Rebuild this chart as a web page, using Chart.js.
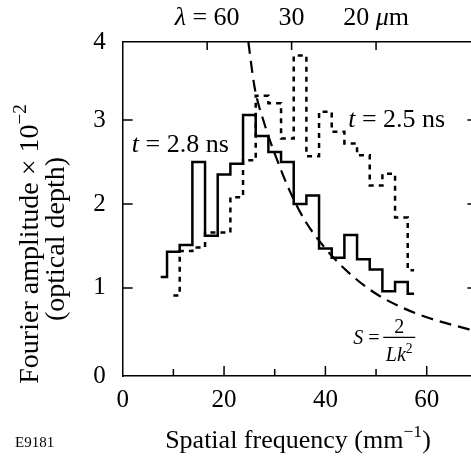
<!DOCTYPE html>
<html>
<head>
<meta charset="utf-8">
<script src="https://cdn.jsdelivr.net/npm/chart.js@4.4.1/dist/chart.umd.min.js"></script>
<style>
  html, body { margin: 0; padding: 0; background: #fff; overflow: hidden; }
  #wrap { width: 480px; height: 460px; }
</style>
</head>
<body>
<div id="wrap"><canvas id="chart" width="480" height="460"></canvas></div>
<script>
// Bin centres of the spatial frequency histogram (mm^-1)
var kBins = [7.5, 10, 12.5, 15, 17.5, 20, 22.5, 25, 27.5, 30, 32.5,
             35, 37.5, 40, 42.5, 45, 47.5, 50, 52.5, 55, 57.5];
// t = 2.8 ns (solid)
var amp28 = [1.13, 1.43, 1.51, 2.50, 1.62, 2.35, 2.48, 3.06, 2.81, 2.62, 2.50,
             2.00, 2.10, 1.47, 1.36, 1.63, 1.34, 1.22, 0.96, 1.07, 0.93];
// t = 2.5 ns (dotted), no value in the first bin
var amp25 = [null, 0.91, 1.44, 1.48, 1.66, 1.66, 2.08, 2.52, 3.29, 3.20, 2.78,
             3.77, 2.57, 3.10, 2.86, 2.72, 2.58, 2.22, 2.36, 1.84, 1.21];
// S = 2/(L k^2) curve
var curveK = [24.8, 26, 28, 30, 33, 36, 40, 45, 50, 55, 60, 65, 70];
var curveS = [3.93, 3.40, 2.95, 2.60, 2.15, 1.80, 1.47, 1.16, 0.93, 0.77, 0.65, 0.56, 0.48];
// top axis: wavelength ticks (um) at k = 1000 / lambda
var lambdaUm = [60, 30, 20];
var yTickVals = [-0.05, 1, 2, 3, 3.93];
var yTickLabels = ['0', '1', '2', '3', '4'];

var SERIF = '"Liberation Serif", "Times New Roman", serif';

function pts(xs, ys) {
    return xs.map(function(x, i) { return {x: x, y: ys[i]}; });
}

// draw a run of text pieces (italic / superscript) starting at x
function drawRich(ctx, parts, x, y, size, align) {
    var w = 0;
    parts.forEach(function(p) {
        ctx.font = (p.it ? 'italic ' : '') + (p.sup ? size * 0.68 : size) + 'px ' + SERIF;
        p.w = ctx.measureText(p.t).width;
        w += p.w;
    });
    if (align === 'center') { x -= w / 2; }
    parts.forEach(function(p) {
        ctx.font = (p.it ? 'italic ' : '') + (p.sup ? size * 0.68 : size) + 'px ' + SERIF;
        ctx.fillText(p.t, x, p.sup ? y - size * 0.42 : y);
        x += p.w;
    });
}

var decorations = {
    id: 'decorations',
    afterDraw: function(chart) {
        var ctx = chart.ctx;
        var xs = chart.scales.x, ys = chart.scales.y;
        var a = chart.chartArea;
        ctx.save();
        ctx.strokeStyle = '#000';
        ctx.fillStyle = '#000';
        ctx.lineWidth = 1.5;
        ctx.textBaseline = 'alphabetic';
        ctx.textAlign = 'left';

        // inward tick marks
        ctx.beginPath();
        xs.ticks.forEach(function(t) {
            if (t.value <= 0 || t.value >= 70) { return; }
            var px = xs.getPixelForValue(t.value);
            var len = t.value % 20 === 0 ? 10 : 7;
            ctx.moveTo(px, a.bottom);
            ctx.lineTo(px, a.bottom - len);
        });
        lambdaUm.forEach(function(l) {
            var px = xs.getPixelForValue(1000 / l);
            ctx.moveTo(px, a.top);
            ctx.lineTo(px, a.top + 8);
        });
        [1, 2, 3].forEach(function(v) {
            var py = ys.getPixelForValue(v);
            ctx.moveTo(a.left, py);
            ctx.lineTo(a.left + 10, py);
            ctx.moveTo(a.right, py);
            ctx.lineTo(a.right - 10, py);
        });
        ctx.stroke();

        // wavelength labels on top
        var top = a.top - 17;
        drawRich(ctx, [{t: '\u03bb', it: true}, {t: ' = 60'}], xs.getPixelForValue(1000 / 60), top, 26, 'center');
        drawRich(ctx, [{t: '30'}], xs.getPixelForValue(1000 / 30), top, 26, 'center');
        drawRich(ctx, [{t: '20 '}, {t: '\u03bc', it: true}, {t: 'm'}], xs.getPixelForValue(1000 / 20), top, 26, 'center');

        // curve labels
        drawRich(ctx, [{t: 't', it: true}, {t: ' = 2.8 ns'}], xs.getPixelForValue(1.8), ys.getPixelForValue(2.62), 26, 'left');
        drawRich(ctx, [{t: 't', it: true}, {t: ' = 2.5 ns'}], xs.getPixelForValue(44.5), ys.getPixelForValue(2.92), 26, 'left');

        // S = 2 / (L k^2)
        var sx = xs.getPixelForValue(45.5), by = ys.getPixelForValue(0.41);
        drawRich(ctx, [{t: 'S', it: true}, {t: ' ='}], sx, by + 7, 20, 'left');
        var bx0 = sx + 30, bx1 = sx + 62;
        ctx.beginPath();
        ctx.lineWidth = 1.2;
        ctx.moveTo(bx0, by);
        ctx.lineTo(bx1, by);
        ctx.stroke();
        drawRich(ctx, [{t: '2'}], (bx0 + bx1) / 2, by - 4, 20, 'center');
        drawRich(ctx, [{t: 'Lk', it: true}, {t: '2', sup: true}], (bx0 + bx1) / 2, by + 24, 20, 'center');

        // axis titles
        drawRich(ctx, [{t: 'Spatial frequency (mm'}, {t: '\u22121', sup: true}, {t: ')'}], 298, 448, 26, 'center');
        ctx.font = '15px ' + SERIF;
        ctx.fillText('E9181', 15, 447);

        ctx.save();
        ctx.translate(38, 244);
        ctx.rotate(-Math.PI / 2);
        drawRich(ctx, [{t: 'Fourier amplitude \u00d7 10'}, {t: '\u22122', sup: true}], 0, 0, 28, 'center');
        ctx.restore();
        ctx.save();
        ctx.translate(64, 239);
        ctx.rotate(-Math.PI / 2);
        drawRich(ctx, [{t: '(optical depth)'}], 0, 0, 28, 'center');
        ctx.restore();

        ctx.restore();
    }
};

var tickFont = {family: SERIF, size: 25};

new Chart(document.getElementById('chart'), {
    type: 'line',
    data: {
        datasets: [{
            label: 't = 2.8 ns',
            data: pts(kBins, amp28),
            stepped: 'middle',
            borderColor: '#000',
            borderWidth: 2.5,
            pointRadius: 0,
            fill: false
        }, {
            label: 't = 2.5 ns',
            data: pts(kBins, amp25),
            stepped: 'middle',
            borderColor: '#000',
            borderWidth: 2.5,
            borderDash: [5, 5],
            pointRadius: 0,
            fill: false
        }, {
            label: 'S = 2/Lk^2',
            data: pts(curveK, curveS),
            cubicInterpolationMode: 'monotone',
            borderColor: '#000',
            borderWidth: 2.2,
            borderDash: [12, 7],
            pointRadius: 0,
            fill: false
        }]
    },
    options: {
        responsive: false,
        animation: false,
        devicePixelRatio: 1,
        layout: {padding: 0},
        plugins: {
            legend: {display: false},
            tooltip: {enabled: false}
        },
        scales: {
            x: {
                type: 'linear',
                position: 'bottom',
                min: 0,
                max: 70,
                grid: {display: false},
                border: {display: true, color: '#000', width: 1.5},
                ticks: {
                    stepSize: 10,
                    autoSkip: false,
                    maxRotation: 0,
                    padding: 1,
                    color: '#000',
                    font: tickFont,
                    callback: function(v) { return v % 20 === 0 && v < 70 ? String(v) : ''; }
                },
                afterFit: function(s) { s.height = 84; }
            },
            x2: {
                type: 'linear',
                position: 'top',
                min: 0,
                max: 70,
                grid: {display: false},
                border: {display: true, color: '#000', width: 1.5},
                ticks: {display: false},
                afterBuildTicks: function(s) {
                    s.ticks = lambdaUm.map(function(l) { return {value: 1000 / l}; });
                },
                afterFit: function(s) { s.height = 42; }
            },
            y: {
                type: 'linear',
                position: 'left',
                min: yTickVals[0],
                max: yTickVals[yTickVals.length - 1],
                grid: {display: false},
                border: {display: true, color: '#000', width: 1.5},
                afterBuildTicks: function(s) {
                    s.ticks = yTickVals.map(function(v) { return {value: v}; });
                },
                ticks: {
                    padding: 9,
                    color: '#000',
                    font: tickFont,
                    callback: function(v, i) { return yTickLabels[i]; }
                },
                afterFit: function(s) { s.width = 122.7; }
            },
            y2: {
                type: 'linear',
                position: 'right',
                min: yTickVals[0],
                max: yTickVals[yTickVals.length - 1],
                grid: {display: false},
                border: {display: true, color: '#000', width: 1.5},
                ticks: {display: false},
                afterFit: function(s) { s.width = 2.6; }
            }
        }
    },
    plugins: [decorations]
});
</script>
</body>
</html>
